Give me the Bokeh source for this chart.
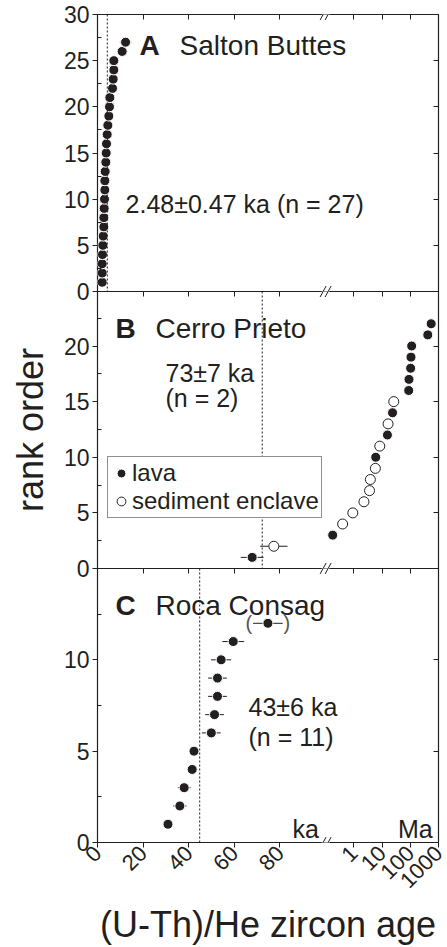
import math
from bokeh.plotting import figure
from bokeh.layouts import column
from bokeh.models import (Range1d, LinearAxis, FixedTicker, Span, Label, Legend,
                          LegendItem, LogScale, ColumnDataSource)
from bokeh.embed import file_html
from bokeh.resources import INLINE
from bokeh.core.properties import value

FONT = "Liberation Sans"
INK = "#231f20"

# ---------------- data ----------------
# Panel A: Salton Buttes (ages in ka)
a_rank = [1, 2, 3, 4, 5, 6, 7, 8, 9, 10, 11, 12, 13, 14, 15, 16, 17, 18, 19, 20,
          21, 22, 23, 24, 25, 26, 27]
a_age_ka = [2.05, 2.05, 2.05, 2.19, 2.34, 2.49, 2.78, 2.78, 2.92, 3.07, 3.22, 3.22,
            3.36, 3.65, 3.80, 3.95, 4.24, 4.53, 4.97, 5.26, 5.41, 6.58, 6.87, 7.16,
            7.16, 10.8, 12.3]
a_err_ka = [0.4, 0.4, 0.4, 0.4, 0.4, 0.5, 0.5, 0.5, 0.5, 0.5, 0.5, 0.5, 0.5, 0.6,
            0.6, 0.6, 0.6, 0.6, 0.7, 0.7, 0.7, 0.8, 0.8, 0.9, 0.9, 2.2, 2.5]

# Panel B: Cerro Prieto, young grains (ka) and old grains (Ma)
b_ka_rank = [1, 2]
b_ka_age = [67.8, 77.3]
b_ka_err = [5.0, 6.0]
b_ka_kind = ["lava", "sediment enclave"]
b_ma_rank = [3, 4, 5, 6, 7, 8, 9, 10, 11, 12, 13, 14, 15, 16, 17, 18, 19, 20, 21, 22]
b_ma_age = [0.178, 0.40, 0.92, 2.28, 3.6, 3.85, 5.8, 5.96, 8.3, 15.5, 16.3, 23.5,
            26.0, 88.0, 90.0, 103.0, 106.0, 112.0, 417.0, 550.0]
b_ma_kind = ["lava", "sediment enclave", "sediment enclave", "sediment enclave",
             "sediment enclave", "sediment enclave", "sediment enclave", "lava",
             "sediment enclave", "lava", "sediment enclave", "lava", "sediment enclave",
             "lava", "lava", "lava", "lava", "lava", "lava", "lava"]

# Panel C: Roca Consag (ka)
c_rank = [1, 2, 3, 4, 5, 6, 7, 8, 9, 10, 11, 12]
c_age_ka = [30.9, 36.1, 38.0, 41.5, 42.3, 49.9, 51.3, 52.6, 52.6, 54.2, 59.5, 74.7]
c_err_ka = [1.5, 2.9, 2.8, 2.2, 1.8, 4.1, 4.1, 4.1, 4.1, 4.4, 4.8, 6.5]
c_excluded = [False, False, False, False, False, False, False, False, False, False,
              False, True]

# dashed lines (position as drawn) and annotations
mean_line_ka = [4.3, 72.2, 44.8]
panel_letters = ["A", "B", "C"]
panel_names = ["Salton Buttes", "Cerro Prieto", "Roca Consag"]

y_max = [30, 24.9, 15]
y_ticks = [[0, 5, 10, 15, 20, 25, 30], [0, 5, 10, 15, 20], [0, 5, 10]]
y_minor = [[2.5, 7.5, 12.5, 17.5, 22.5, 27.5], [2.5, 7.5, 12.5, 17.5, 22.5],
           [2.5, 7.5, 12.5]]
x_ticks_ka = [0, 20, 40, 60, 80]
x_ticks_ma = [1, 10, 100, 1000]

# ---------------- broken axis: linear ka | log Ma ----------------
KA_MAX = 100.0        # linear part 0..100 ka
MA_MIN, MA_MAX = 0.1, 1000.0
DEC = 12.37           # linear-axis units per log decade
X_END = KA_MAX + DEC * math.log10(MA_MAX / MA_MIN)
LOG_START = MA_MIN / 10 ** (KA_MAX / DEC)
OVERLAP = 16          # px a panel's bottom border runs under the next panel
FRAME_H = 277
FRAME_W = 447 - 97 - 9
PX_X = X_END / FRAME_W   # x units per screen pixel


def ma_tick_pos(v):
    return KA_MAX + DEC * math.log10(v / MA_MIN)


x_tick_pos = x_ticks_ka + [ma_tick_pos(v) for v in x_ticks_ma]
x_overrides = {ma_tick_pos(v): str(v) for v in x_ticks_ma}


def add_text(p, x, y, t, size="25px", bold=False, align="left", color=INK):
    p.add_layout(Label(x=x, y=y, text=t, text_font=FONT,
                       text_font_style="bold" if bold else "normal",
                       text_font_size=size, text_baseline="middle",
                       text_align=align, text_color=color))


def make_panel(i, top_border, bottom_border, pull_up):
    kw = {}
    if pull_up:
        kw["margin"] = (-OVERLAP, 0, 0, 0)
    p = figure(width=447, height=FRAME_H + top_border + bottom_border,
               x_range=Range1d(0, X_END),
               y_range=Range1d(0, y_max[i]), x_axis_location=None,
               y_axis_location=None, toolbar_location=None, output_backend="svg",
               min_border_left=97, min_border_right=9, min_border_top=top_border,
               min_border_bottom=bottom_border, outline_line_color=INK,
               outline_line_width=1.2, background_fill_color="white",
               background_fill_alpha=0.0 if pull_up else 1.0,
               border_fill_color="white", border_fill_alpha=0.0 if pull_up else 1.0,
               **kw)
    p.extra_x_ranges = {"ma": Range1d(LOG_START, MA_MAX)}
    p.extra_x_scales = {"ma": LogScale()}
    p.grid.visible = False

    left = LinearAxis(ticker=FixedTicker(ticks=y_ticks[i], minor_ticks=y_minor[i]),
                      major_tick_out=5, major_tick_in=0, minor_tick_in=4,
                      minor_tick_out=0, axis_line_color=None,
                      major_tick_line_color=INK, minor_tick_line_color=INK,
                      major_label_text_font=FONT, major_label_text_font_size="23px",
                      major_label_text_color=INK, major_label_standoff=3)
    p.add_layout(left, "left")
    right = LinearAxis(ticker=FixedTicker(ticks=y_ticks[i]), major_tick_in=5,
                       major_tick_out=0, minor_tick_in=0, minor_tick_out=0,
                       major_label_text_color=None, axis_line_color=None,
                       major_tick_line_color=INK)
    p.add_layout(right, "right")
    top = LinearAxis(ticker=FixedTicker(ticks=x_tick_pos), major_tick_in=5,
                     major_tick_out=0, minor_tick_in=0, minor_tick_out=0,
                     major_label_text_color=None, axis_line_color=None,
                     major_tick_line_color=INK)
    p.add_layout(top, "above")

    p.add_layout(Span(location=mean_line_ka[i], dimension="height", line_color=INK,
                      line_width=1, line_dash="2 2"))

    # axis-break marks "//" on the top and bottom frame lines
    py = y_max[i] / FRAME_H          # y units per screen pixel
    gap, sx, sy = 2.5, 3.0, 5.5      # px
    for yy in (0, y_max[i]):
        p.rect(x=[KA_MAX], y=[yy], width=8, height=5, width_units="screen",
               height_units="screen", fill_color="white", line_color=None)
        p.segment(x0=[KA_MAX - (gap + sx) * PX_X, KA_MAX + (gap - sx) * PX_X],
                  x1=[KA_MAX - (gap - sx) * PX_X, KA_MAX + (gap + sx) * PX_X],
                  y0=[yy - sy * py, yy - sy * py], y1=[yy + sy * py, yy + sy * py],
                  line_color=INK, line_width=1)
    return p, left


# ---------------- panel A ----------------
pA, leftA = make_panel(0, 14, OVERLAP, False)
srcA = ColumnDataSource(dict(rank=a_rank, age=a_age_ka,
                             lo=[a - e for a, e in zip(a_age_ka, a_err_ka)],
                             hi=[a + e for a, e in zip(a_age_ka, a_err_ka)]))
pA.segment(x0="lo", x1="hi", y0="rank", y1="rank", source=srcA, line_color=INK,
           line_width=1)
pA.scatter(x="age", y="rank", source=srcA, size=10, fill_color=INK,
           line_color="white", line_width=1)
add_text(pA, 18.4, 26.6, panel_letters[0], size="28px", bold=True)
add_text(pA, 36.0, 26.6, panel_names[0], size="28px")
add_text(pA, 12.3, 9.5, "2.48±0.47 ka (n = 27)")

# ---------------- panel B ----------------
pB, leftB = make_panel(1, 0, OVERLAP, True)
leftB.axis_label = "rank order"
leftB.axis_label_text_font = FONT
leftB.axis_label_text_font_size = "36px"
leftB.axis_label_text_font_style = "normal"
leftB.axis_label_text_color = INK
leftB.axis_label_standoff = 10

renderers = {}
for kind, fill in (("lava", INK), ("sediment enclave", "white")):
    ka_idx = [j for j, k in enumerate(b_ka_kind) if k == kind]
    ma_idx = [j for j, k in enumerate(b_ma_kind) if k == kind]
    s_ka = ColumnDataSource(dict(rank=[b_ka_rank[j] for j in ka_idx],
                                 age=[b_ka_age[j] for j in ka_idx],
                                 lo=[b_ka_age[j] - b_ka_err[j] for j in ka_idx],
                                 hi=[b_ka_age[j] + b_ka_err[j] for j in ka_idx]))
    s_ma = ColumnDataSource(dict(rank=[b_ma_rank[j] for j in ma_idx],
                                 age=[b_ma_age[j] for j in ma_idx]))
    pB.segment(x0="lo", x1="hi", y0="rank", y1="rank", source=s_ka, line_color=INK,
               line_width=1)
    lc = "white" if kind == "lava" else INK
    r1 = pB.scatter(x="age", y="rank", source=s_ka, size=10, fill_color=fill,
                    line_color=lc, line_width=1)
    pB.scatter(x="age", y="rank", source=s_ma, size=10, fill_color=fill,
               line_color=lc, line_width=1, x_range_name="ma")
    renderers[kind] = r1

legend = Legend(items=[LegendItem(label="lava", renderers=[renderers["lava"]]),
                       LegendItem(label="sediment enclave",
                                  renderers=[renderers["sediment enclave"]])],
                location=(10, 50), orientation="vertical",
                label_text_font=FONT, label_text_font_size="24px",
                label_text_color=INK, glyph_width=22, glyph_height=26,
                label_height=26, label_standoff=0, padding=2, spacing=0, margin=0,
                border_line_color=INK, border_line_width=1,
                background_fill_color="white", background_fill_alpha=1.0)
pB.add_layout(legend)
add_text(pB, 7.9, 21.6, panel_letters[1], size="28px", bold=True)
add_text(pB, 25.4, 21.6, panel_names[1], size="28px")
add_text(pB, 29.8, 17.6, "73±7 ka")
add_text(pB, 29.8, 15.35, "(n = 2)")

# ---------------- panel C ----------------
pC, leftC = make_panel(2, 0, 102, True)
srcC = ColumnDataSource(dict(rank=c_rank, age=c_age_ka,
                             lo=[a - e for a, e in zip(c_age_ka, c_err_ka)],
                             hi=[a + e for a, e in zip(c_age_ka, c_err_ka)]))
pC.segment(x0="lo", x1="hi", y0="rank", y1="rank", source=srcC, line_color=INK,
           line_width=1)
pC.scatter(x="age", y="rank", source=srcC, size=10, fill_color=INK,
           line_color="white", line_width=1)
ex_age = [a for a, e in zip(c_age_ka, c_excluded) if e]
ex_rank = [r for r, e in zip(c_rank, c_excluded) if e]
pC.text(x=ex_age, y=ex_rank, text=["("] * len(ex_age), x_offset=-19,
        text_align="center", text_baseline="middle", text_font=value(FONT),
        text_font_size="20px", text_color="#555555")
pC.text(x=ex_age, y=ex_rank, text=[")"] * len(ex_age), x_offset=19,
        text_align="center", text_baseline="middle", text_font=value(FONT),
        text_font_size="20px", text_color="#555555")

bottom = LinearAxis(ticker=FixedTicker(ticks=x_tick_pos), major_label_overrides=x_overrides,
                    major_label_orientation=math.pi / 4, major_tick_out=5,
                    major_tick_in=0, minor_tick_in=0, minor_tick_out=0,
                    axis_line_color=None, major_tick_line_color=INK,
                    major_label_text_font=FONT, major_label_text_font_size="22px",
                    major_label_text_color=INK, major_label_standoff=2,
                    axis_label="(U-Th)/He zircon age", axis_label_text_font=FONT,
                    axis_label_text_font_size="36px",
                    axis_label_text_font_style="normal", axis_label_text_color=INK,
                    axis_label_standoff=6)
pC.add_layout(bottom, "below")
add_text(pC, 7.9, 13.0, panel_letters[2], size="28px", bold=True)
add_text(pC, 25.4, 13.0, panel_names[2], size="28px")
add_text(pC, 66.2, 7.42, "43±6 ka")
add_text(pC, 66.2, 5.8, "(n = 11)")
add_text(pC, 85.5, 0.75, "ka")
add_text(pC, 146.9, 0.75, "Ma", align="right")

layout = column(pA, pB, pC, spacing=0)
open("out.html", "w").write(file_html(layout, INLINE))
